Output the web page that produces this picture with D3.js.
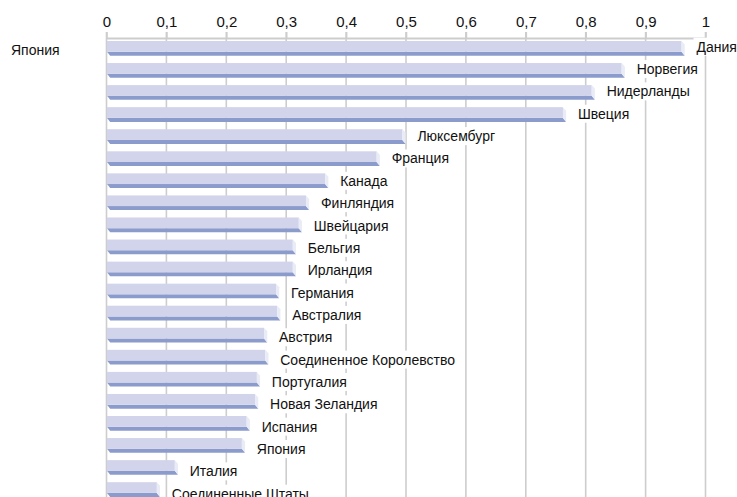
<!DOCTYPE html>
<html>
<head>
<meta charset="utf-8">
<script src="https://cdn.jsdelivr.net/npm/d3@7"></script>
<style>
  html, body { margin: 0; padding: 0; background: #fff; }
  svg { display: block; font-family: "Liberation Sans", Arial, sans-serif; }
</style>
</head>
<body>
<svg id="chart" width="737" height="497"></svg>
<script>
const categories = ["Дания","Норвегия","Нидерланды","Швеция","Люксембург","Франция","Канада","Финляндия","Швейцария","Бельгия","Ирландия","Германия","Австралия","Австрия","Соединенное Королевство","Португалия","Новая Зеландия","Испания","Япония","Италия","Соединенные Штаты"];
const values = [0.960,0.860,0.810,0.762,0.494,0.451,0.365,0.333,0.321,0.311,0.311,0.283,0.285,0.263,0.265,0.251,0.248,0.234,0.226,0.114,0.084];
const tickValues = [0,0.1,0.2,0.3,0.4,0.5,0.6,0.7,0.8,0.9,1];
const tickLabels = ["0","0,1","0,2","0,3","0,4","0,5","0,6","0,7","0,8","0,9","1"];
const axisCategoryLabel = "Япония";

const svg = d3.select("#chart");
const W = 737, H = 497;
const x = d3.scaleLinear().domain([0, 1]).range([106.5, 705.5]);
const rowH = 22.06;
const yBar = d3.scaleBand().domain(categories).range([34.5, 34.5 + rowH * categories.length]).padding(0);
const labH = 22.35;
const yLab = d3.scaleBand().domain(categories).range([40, 40 + labH * categories.length]).padding(0);
const axisY = 38;

const gridColor = "#cdcdcd";
const textColor = "#111";
// gridlines
svg.append("g").selectAll("line").data(tickValues).join("line")
  .attr("x1", d => x(d)).attr("x2", d => x(d))
  .attr("y1", axisY - 6).attr("y2", H)
  .attr("stroke", gridColor).attr("stroke-width", 1.6);

// top axis
const axis = d3.axisTop(x).tickValues(tickValues)
  .tickFormat((d, i) => tickLabels[i]).tickSize(6).tickSizeOuter(0);
const ag = svg.append("g").attr("transform", `translate(0,${axisY})`).call(axis);
ag.select(".domain").attr("stroke", gridColor).attr("stroke-width", 2);
ag.selectAll(".tick line").attr("stroke", gridColor).attr("stroke-width", 1.6);
ag.selectAll(".tick text").attr("font-size", 15).attr("fill", textColor)
  .attr("font-family", '"Liberation Sans", Arial, sans-serif').attr("y", -11).attr("dy", "0");

// category axis label
svg.append("text").attr("x", 11).attr("y", 55).attr("font-size", 14).attr("fill", textColor).text(axisCategoryLabel);

// bars
const faceH = 10.7, frontH = 4, depth = 3.2;
const bars = svg.append("g").selectAll("g").data(categories).join("g");
bars.append("polygon")
  .attr("points", (c, i) => {
    const t = yBar(c) + 6.5, x0 = x(0) + 0.5, x1 = x(values[i]);
    return [[x0, t + faceH], [x1, t + faceH], [x1 + depth, t + faceH + frontH], [x0 + depth, t + faceH + frontH]].map(p => p.join(",")).join(" ");
  })
  .attr("fill", "#8b9bcc");
bars.append("rect")
  .attr("x", x(0) + 0.5).attr("y", c => yBar(c) + 6.5)
  .attr("width", (c, i) => x(values[i]) - x(0) - 0.5).attr("height", faceH)
  .attr("fill", "#d1d4ea");
bars.append("polygon")
  .attr("points", (c, i) => {
    const t = yBar(c) + 6.5, x1 = x(values[i]);
    return [[x1, t], [x1 + depth, t + 3.5], [x1 + depth, t + faceH + frontH], [x1, t + faceH]].map(p => p.join(",")).join(" ");
  })
  .attr("fill", "#e9ebf6");

// labels with white backgrounds
const labels = svg.append("g").selectAll("g").data(categories).join("g");
labels.each(function(c, i) {
  const g = d3.select(this);
  const tx = x(values[i]) + 15, ty = yLab(c) + 11.7;
  const bg = g.append("rect").attr("fill", "#fff");
  const t = g.append("text").attr("x", tx).attr("y", ty).attr("font-size", 14).attr("fill", textColor).text(c);
  const bb = t.node().getBBox();
  bg.attr("x", bb.x - 3).attr("y", bb.y - 1).attr("width", bb.width + 6).attr("height", bb.height + 2);
});
</script>
</body>
</html>
